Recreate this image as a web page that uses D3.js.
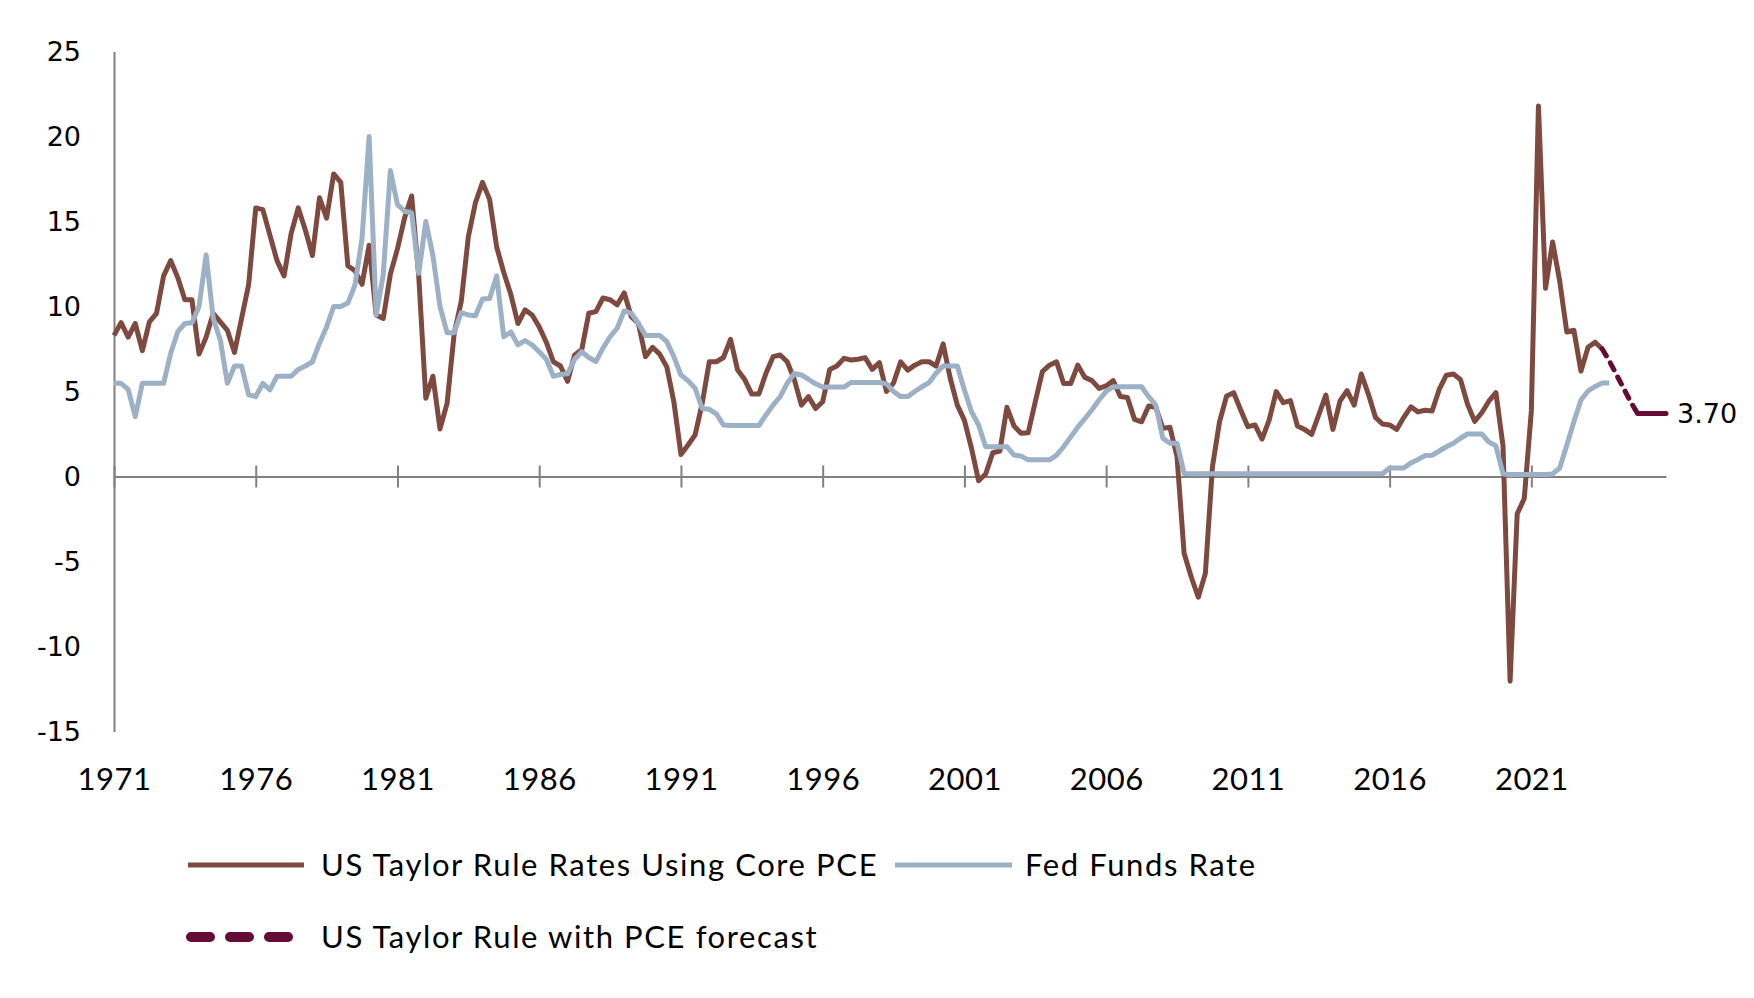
<!DOCTYPE html>
<html>
<head>
<meta charset="utf-8">
<script src="https://cdn.jsdelivr.net/npm/d3@7"></script>
<style>
  body { margin: 0; background: #fff; }
  svg { display: block; }
</style>
</head>
<body>
<svg id="chart" width="1754" height="998"></svg>
<script>
// quarterly series, first value is 1971 Q1
const startYear = 1971;

const taylorRule = [
  8.3, 9.05, 8.2, 9.0,      // 1971
  7.4, 9.1, 9.6, 11.8,      // 1972
  12.7, 11.7, 10.4, 10.4,   // 1973
  7.2, 8.2, 9.6, 9.1,       // 1974
  8.6, 7.3, 9.3, 11.3,      // 1975
  15.8, 15.7, 14.2, 12.7,   // 1976
  11.8, 14.3, 15.8, 14.5,   // 1977
  13.0, 16.4, 15.2, 17.8,   // 1978
  17.3, 12.4, 12.1, 11.3,   // 1979
  13.6, 9.5, 9.3, 11.9,     // 1980
  13.4, 15.2, 16.5, 11.8,   // 1981
  4.6, 5.9, 2.8, 4.3,       // 1982
  8.4, 10.3, 14.1, 16.1,    // 1983
  17.3, 16.3, 13.5, 12.0,   // 1984
  10.7, 9.0, 9.8, 9.5,      // 1985
  8.8, 7.9, 6.75, 6.5,      // 1986
  5.6, 7.15, 7.45, 9.6,     // 1987
  9.7, 10.5, 10.4, 10.1,    // 1988
  10.8, 9.4, 9.0, 7.05,     // 1989
  7.6, 7.2, 6.45, 4.4,      // 1990
  1.3, 1.85, 2.45, 4.3,     // 1991
  6.75, 6.75, 7.0, 8.07,    // 1992
  6.26, 5.7, 4.85, 4.85,    // 1993
  6.07, 7.05, 7.15, 6.75,   // 1994
  5.7, 4.2, 4.7, 4.0,       // 1995
  4.4, 6.3, 6.5, 6.95,      // 1996
  6.85, 6.9, 6.99, 6.3,     // 1997
  6.7, 5.0, 5.5, 6.75,      // 1998
  6.26, 6.55, 6.75, 6.75,   // 1999
  6.5, 7.8, 5.78, 4.2,      // 2000
  3.3, 1.66, -0.25, 0.15,   // 2001
  1.4, 1.5, 4.07, 2.97,     // 2002
  2.54, 2.57, 4.4, 6.17,    // 2003
  6.55, 6.75, 5.47, 5.47,   // 2004
  6.55, 5.83, 5.64, 5.18,   // 2005
  5.33, 5.64, 4.7, 4.65,    // 2006
  3.36, 3.22, 4.15, 4.07,   // 2007
  2.83, 2.9, 1.17, -4.52,   // 2008
  -5.9, -7.1, -5.7, 0.58,   // 2009
  3.22, 4.74, 4.93, 3.9,    // 2010
  2.93, 3.03, 2.2, 3.32,    // 2011
  4.99, 4.34, 4.46, 2.97,   // 2012
  2.77, 2.48, 3.62, 4.79,   // 2013
  2.77, 4.44, 5.05, 4.2,    // 2014
  6.03, 4.85, 3.48, 3.09,   // 2015
  3.03, 2.77, 3.48, 4.1,    // 2016
  3.8, 3.9, 3.85, 5.12,     // 2017
  5.96, 6.03, 5.7, 4.25,    // 2018
  3.24, 3.75, 4.43, 4.93,   // 2019
  1.8, -12.04, -2.2, -1.29, // 2020
  3.86, 21.8, 11.07, 13.8,  // 2021
  11.5, 8.5, 8.6, 6.2,      // 2022
  7.6, 7.9, 7.5             // 2023
];

const fedFunds = [
  5.48, 5.48, 5.13, 3.52,   // 1971
  5.48, 5.48, 5.48, 5.48,   // 1972
  7.25, 8.52, 9.0, 9.04,    // 1973
  10.0, 13.03, 9.3, 8.03,   // 1974
  5.48, 6.5, 6.5, 4.8,      // 1975
  4.7, 5.48, 5.1, 5.9,      // 1976
  5.9, 5.9, 6.3, 6.5,       // 1977
  6.75, 7.84, 8.8, 10.0,    // 1978
  10.0, 10.2, 11.26, 14.0,  // 1979
  20.0, 9.5, 11.9, 18.0,    // 1980
  16.0, 15.6, 15.5, 11.95,  // 1981
  15.0, 13.0, 10.0, 8.46,   // 1982
  8.46, 9.64, 9.5, 9.45,    // 1983
  10.44, 10.47, 11.8, 8.22, // 1984
  8.5, 7.74, 8.0, 7.74,     // 1985
  7.34, 6.9, 5.9, 6.0,      // 1986
  6.04, 6.9, 7.34, 7.0,     // 1987
  6.76, 7.55, 8.22, 8.72,   // 1988
  9.75, 9.6, 9.0, 8.3,      // 1989
  8.3, 8.3, 7.93, 7.05,     // 1990
  5.97, 5.64, 5.19, 4.0,    // 1991
  3.95, 3.68, 3.03, 3.0,    // 1992
  3.0, 3.0, 3.0, 3.0,       // 1993
  3.62, 4.2, 4.7, 5.48,     // 1994
  6.07, 5.97, 5.72, 5.45,   // 1995
  5.26, 5.26, 5.26, 5.26,   // 1996
  5.53, 5.53, 5.53, 5.53,   // 1997
  5.53, 5.45, 5.0, 4.7,     // 1998
  4.7, 5.0, 5.28, 5.52,     // 1999
  6.07, 6.5, 6.5, 6.5,      // 2000
  5.09, 3.81, 3.03, 1.75,   // 2001
  1.75, 1.75, 1.75, 1.26,   // 2002
  1.2, 0.98, 0.98, 0.98,    // 2003
  0.98, 1.26, 1.75, 2.33,   // 2004
  2.9, 3.4, 3.93, 4.5,      // 2005
  5.01, 5.28, 5.28, 5.28,   // 2006
  5.28, 5.28, 4.7, 4.2,     // 2007
  2.25, 1.96, 1.96, 0.18,   // 2008
  0.16, 0.16, 0.16, 0.16,   // 2009
  0.16, 0.16, 0.16, 0.16,   // 2010
  0.16, 0.16, 0.16, 0.16,   // 2011
  0.16, 0.16, 0.16, 0.16,   // 2012
  0.16, 0.16, 0.16, 0.16,   // 2013
  0.16, 0.16, 0.16, 0.16,   // 2014
  0.16, 0.16, 0.16, 0.16,   // 2015
  0.5, 0.5, 0.5, 0.8,       // 2016
  1.0, 1.23, 1.25, 1.5,     // 2017
  1.75, 1.96, 2.25, 2.5,    // 2018
  2.5, 2.5, 2.03, 1.8,      // 2019
  0.15, 0.12, 0.12, 0.12,   // 2020
  0.12, 0.12, 0.12, 0.15,   // 2021
  0.5, 1.84, 3.22, 4.5,     // 2022
  5.03, 5.3, 5.5, 5.5       // 2023
];

// forecast picks up from the last Taylor reading (2023 Q3)
const forecastStart = 2023.5;
const pceForecast = [7.5, 6.8, 6.0, 5.2, 4.4, 3.7, 3.7, 3.7, 3.7, 3.7];
const forecastLabel = '3.70';

const yearTicks = [1971, 1976, 1981, 1986, 1991, 1996, 2001, 2006, 2011, 2016, 2021];
const valueTicks = [-15, -10, -5, 0, 5, 10, 15, 20, 25];

const seriesNames = [
  'US Taylor Rule Rates Using Core PCE',
  'Fed Funds Rate',
  'US Taylor Rule with PCE forecast'
];

const colors = { taylor: '#7e4a3f', fed: '#9cb0c6', forecast: '#660a36', axis: '#808080' };
const labelFont = 'Lato, "Open Sans", sans-serif';
const numberFont = '"DejaVu Sans", sans-serif';

const svg = d3.select('#chart');

const x = d3.scaleLinear()
  .domain([startYear, forecastStart + (pceForecast.length - 1) / 4])
  .range([114, 1666]);
const y = d3.scaleLinear().domain([-15, 25]).range([731.5, 51.5]);

const toPoints = (vals, t0) => vals.map((v, i) => ({ t: t0 + i / 4, v }));
const line = d3.line().x(d => x(d.t)).y(d => y(d.v));

// value axis, labels only
svg.append('g')
  .attr('transform', `translate(${x(startYear)},0)`)
  .call(d3.axisLeft(y).tickValues(valueTicks).tickSize(0).tickPadding(33).tickFormat(d => String(d)))
  .call(g => g.select('.domain').attr('stroke', colors.axis).attr('stroke-width', 2))
  .call(g => g.selectAll('text')
    .attr('fill', '#000').attr('font-family', numberFont).attr('font-size', 27));

// zero line with crossing ticks
svg.append('g')
  .attr('transform', `translate(0,${y(0)})`)
  .call(d3.axisBottom(x).tickValues(yearTicks).tickSizeInner(11).tickSizeOuter(0).tickFormat(''))
  .call(g => g.select('.domain').attr('stroke', colors.axis).attr('stroke-width', 2))
  .call(g => g.selectAll('.tick line').attr('y1', -11).attr('stroke', colors.axis).attr('stroke-width', 2));

// year labels sit under the plot
svg.append('g')
  .attr('transform', `translate(0,${y(-15)})`)
  .call(d3.axisBottom(x).tickValues(yearTicks).tickSize(0).tickPadding(36).tickFormat(d3.format('d')))
  .call(g => g.select('.domain').remove())
  .call(g => g.selectAll('text')
    .attr('fill', '#000').attr('font-family', labelFont).attr('font-size', 31)
    .attr('letter-spacing', 0.5));

const plot = svg.append('g').attr('fill', 'none').attr('stroke-linejoin', 'round');

plot.append('path')
  .datum(toPoints(taylorRule, startYear))
  .attr('d', line)
  .attr('stroke', colors.taylor)
  .attr('stroke-width', 5);

plot.append('path')
  .datum(toPoints(fedFunds, startYear))
  .attr('d', line)
  .attr('stroke', colors.fed)
  .attr('stroke-width', 5);

// falling part is dashed, the flat tail is drawn solid
const fc = toPoints(pceForecast, forecastStart);
const flatAt = pceForecast.indexOf(pceForecast[pceForecast.length - 1]);
plot.append('path')
  .datum(fc.slice(0, flatAt + 1))
  .attr('d', line)
  .attr('stroke', colors.forecast)
  .attr('stroke-width', 5)
  .attr('stroke-dasharray', '8,8')
  .attr('stroke-linecap', 'round');
plot.append('path')
  .datum(fc.slice(flatAt))
  .attr('d', line)
  .attr('stroke', colors.forecast)
  .attr('stroke-width', 5)
  .attr('stroke-linecap', 'round');

const last = fc[fc.length - 1];
svg.append('text')
  .attr('x', x(last.t) + 11)
  .attr('y', y(last.v))
  .attr('dy', '0.36em')
  .attr('font-family', numberFont)
  .attr('font-size', 27)
  .text(forecastLabel);

// legend
const legend = svg.append('g')
  .attr('font-family', labelFont).attr('font-size', 31).attr('letter-spacing', 1.6);
const legendItems = [
  { name: seriesNames[0], x0: 188, x1: 304, tx: 321, ty: 865, color: colors.taylor, w: 5 },
  { name: seriesNames[1], x0: 895, x1: 1012, tx: 1025, ty: 865, color: colors.fed, w: 5 },
  { name: seriesNames[2], x0: 191, x1: 289, tx: 321, ty: 937, color: colors.forecast, w: 10, dash: '19,20' }
];
legendItems.forEach(d => {
  legend.append('line')
    .attr('x1', d.x0).attr('x2', d.x1).attr('y1', d.ty).attr('y2', d.ty)
    .attr('stroke', d.color).attr('stroke-width', d.w)
    .attr('stroke-dasharray', d.dash || null)
    .attr('stroke-linecap', d.dash ? 'round' : 'butt');
  legend.append('text')
    .attr('x', d.tx).attr('y', d.ty).attr('dy', '0.35em')
    .attr('fill', '#000')
    .text(d.name);
});
</script>
</body>
</html>
